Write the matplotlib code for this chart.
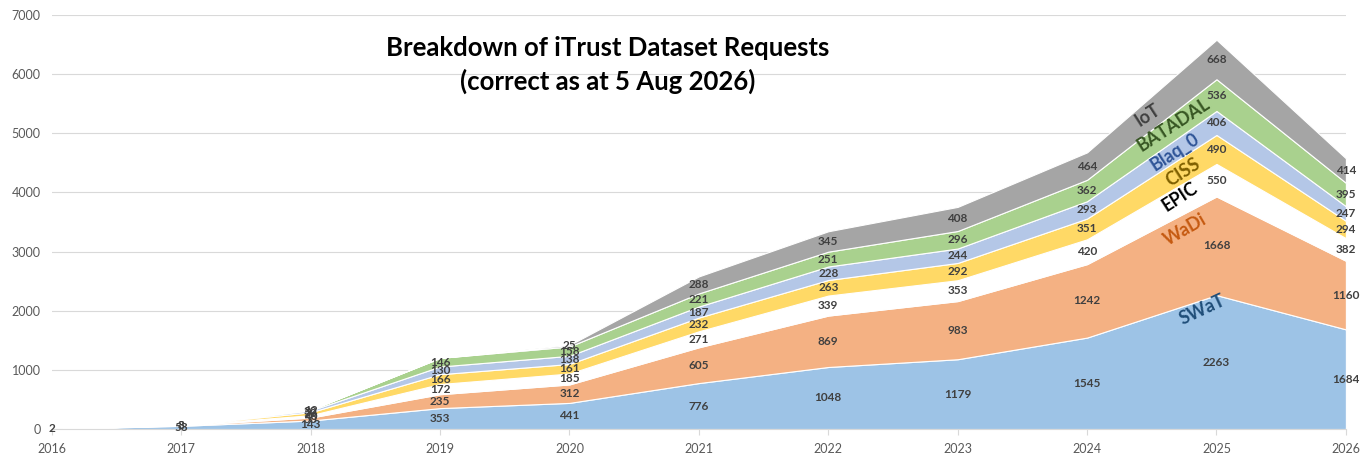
import numpy as np
import matplotlib
matplotlib.use('Agg')
import matplotlib.pyplot as plt

plt.rcParams['font.family'] = ['Lato', 'DejaVu Sans']

years = [2016, 2017, 2018, 2019, 2020, 2021, 2022, 2023, 2024, 2025, 2026]
series_names = ['SWaT', 'WaDi', 'EPIC', 'CISS', 'Blaq_0', 'BATADAL', 'IoT']

swat = [2, 53, 143, 353, 441, 776, 1048, 1179, 1545, 2263, 1684]
wadi = [0, 8, 50, 235, 312, 605, 869, 983, 1242, 1668, 1160]
epic = [0, 3, 40, 172, 185, 271, 339, 353, 420, 550, 382]
ciss = [0, 0, 50, 166, 161, 232, 263, 292, 351, 490, 294]
blaq = [0, 0, 30, 130, 138, 187, 228, 244, 293, 406, 247]
batadal = [0, 0, 12, 146, 158, 221, 251, 296, 362, 536, 395]
iot = [0, 0, 0, 0, 25, 288, 345, 408, 464, 668, 414]

fill_colors = ['#9DC3E6', '#F4B183', '#FFFFFF', '#FFD966', '#B4C7E7', '#A9D18E', '#A5A5A5']
name_colors = ['#1F4E79', '#C55A11', '#000000', '#7F6000', '#2F5597', '#375623', '#404040']
# where the series names sit (x in years, y in requests) and their angle
name_pos = [(2024.89, 2010, 25), (2024.76, 3365, 30), (2024.72, 3925, 33),
            (2024.74, 4345, 33), (2024.68, 4685, 33), (2024.67, 5140, 33),
            (2024.47, 5310, 33)]

all_series = np.array([swat, wadi, epic, ciss, blaq, batadal, iot], dtype=float)
x = np.array(years, dtype=float)

fig = plt.figure(figsize=(13.65, 4.57), dpi=100)
ax = fig.add_axes([0.038, 0.0613, 0.948, 0.906])

bottom = np.zeros(len(years))
for i, vals in enumerate(all_series):
    ax.fill_between(x, bottom, bottom + vals, facecolor=fill_colors[i],
                    edgecolor='white', linewidth=0.8, zorder=2)
    for xi, b, v in zip(x, bottom, vals):
        if v > 0:
            ax.text(xi, b + v / 2, f'{int(v)}', ha='center', va='center',
                    fontsize=8.5, fontweight='bold', color='#404040', zorder=5,
                    clip_on=False)
    bottom = bottom + vals

for name, col, (px, py, rot) in zip(series_names, name_colors, name_pos):
    ax.text(px, py, name, color=col, fontsize=13, fontweight='bold',
            rotation=rot, ha='center', va='center', zorder=6)

ax.set_xlim(2016, 2026)
ax.set_ylim(0, 7000)
ax.set_xticks(years)
ax.set_yticks(range(0, 7001, 1000))
ax.grid(axis='y', color='#D9D9D9', linewidth=0.8, zorder=0)
ax.set_axisbelow(True)
for s in ['top', 'right', 'left']:
    ax.spines[s].set_visible(False)
ax.spines['bottom'].set_color('#D9D9D9')
ax.tick_params(axis='y', length=0, labelsize=9, colors='#595959', pad=8)
ax.tick_params(axis='x', length=4, color='#D9D9D9', labelsize=9,
               labelcolor='#595959', pad=6)

fig.text(0.445, 0.858, 'Breakdown of iTrust Dataset Requests\n(correct as at 5 Aug 2026)',
         ha='center', va='center', fontsize=18.5, fontweight='bold',
         color='black', linespacing=1.4)

fig.savefig('out.png', dpi=100)
